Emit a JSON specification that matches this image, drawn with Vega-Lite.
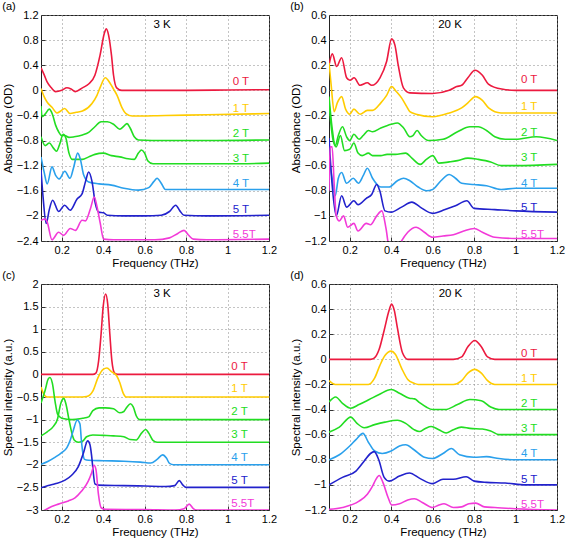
{
"$schema":"https://vega.github.io/schema/vega-lite/v6.json",
"padding":{"left":1,"top":0,"right":1,"bottom":2},
"background":"white",
"config":{
 "font":"Liberation Sans",
 "view":{"stroke":"#222","strokeWidth":1},
 "title":{"anchor":"start","frame":"bounds","fontSize":11,"fontWeight":"normal","offset":-3,"color":"#000"},
 "axis":{"labelFontSize":11,"labelColor":"#000","titleFontSize":11.5,"titleFontWeight":"normal","titleColor":"#000","grid":true,"gridDash":[1,3],"gridColor":"#888","domain":false,"tickColor":"#333","tickSize":-4,"labelPadding":7,"titlePadding":3,"labelFlush":false,"labelOverlap":false,"format":"~g"},
 "axisX":{"titlePadding":2}
},
"datasets":{
"a":[
{"B":"0 T","f":0.1,"v":0.36},{"B":"0 T","f":0.115,"v":0.25},{"B":"0 T","f":0.13,"v":0.13},{"B":"0 T","f":0.15,"v":0.04},{"B":"0 T","f":0.17,"v":-0.02},{"B":"0 T","f":0.2,"v":0.0},{"B":"0 T","f":0.225,"v":0.04},{"B":"0 T","f":0.245,"v":0.02},{"B":"0 T","f":0.265,"v":-0.02},{"B":"0 T","f":0.3,"v":0.04},{"B":"0 T","f":0.33,"v":0.1},{"B":"0 T","f":0.36,"v":0.24},{"B":"0 T","f":0.385,"v":0.56},{"B":"0 T","f":0.405,"v":0.9},{"B":"0 T","f":0.415,"v":0.98},{"B":"0 T","f":0.426,"v":0.88},{"B":"0 T","f":0.44,"v":0.56},{"B":"0 T","f":0.45,"v":0.24},{"B":"0 T","f":0.465,"v":0.04},{"B":"0 T","f":0.49,"v":0.0},{"B":"0 T","f":0.6,"v":0.0},{"B":"0 T","f":0.8,"v":0.0},{"B":"0 T","f":1.0,"v":0.005},{"B":"0 T","f":1.2,"v":0.01},
{"B":"1 T","f":0.1,"v":0.03},{"B":"1 T","f":0.115,"v":-0.1},{"B":"1 T","f":0.13,"v":-0.19},{"B":"1 T","f":0.153,"v":-0.27},{"B":"1 T","f":0.177,"v":-0.36},{"B":"1 T","f":0.195,"v":-0.33},{"B":"1 T","f":0.214,"v":-0.29},{"B":"1 T","f":0.24,"v":-0.37},{"B":"1 T","f":0.27,"v":-0.35},{"B":"1 T","f":0.3,"v":-0.33},{"B":"1 T","f":0.346,"v":-0.21},{"B":"1 T","f":0.37,"v":-0.08},{"B":"1 T","f":0.386,"v":0.05},{"B":"1 T","f":0.41,"v":0.2},{"B":"1 T","f":0.434,"v":0.11},{"B":"1 T","f":0.45,"v":0.02},{"B":"1 T","f":0.467,"v":-0.08},{"B":"1 T","f":0.49,"v":-0.27},{"B":"1 T","f":0.51,"v":-0.37},{"B":"1 T","f":0.54,"v":-0.41},{"B":"1 T","f":0.7,"v":-0.4},{"B":"1 T","f":0.9,"v":-0.39},{"B":"1 T","f":1.2,"v":-0.37},
{"B":"2 T","f":0.1,"v":-0.25},{"B":"2 T","f":0.105,"v":-0.42},{"B":"2 T","f":0.12,"v":-0.38},{"B":"2 T","f":0.14,"v":-0.3},{"B":"2 T","f":0.155,"v":-0.38},{"B":"2 T","f":0.17,"v":-0.55},{"B":"2 T","f":0.185,"v":-0.66},{"B":"2 T","f":0.2,"v":-0.72},{"B":"2 T","f":0.215,"v":-0.72},{"B":"2 T","f":0.235,"v":-0.75},{"B":"2 T","f":0.26,"v":-0.74},{"B":"2 T","f":0.3,"v":-0.71},{"B":"2 T","f":0.33,"v":-0.67},{"B":"2 T","f":0.36,"v":-0.58},{"B":"2 T","f":0.39,"v":-0.5},{"B":"2 T","f":0.42,"v":-0.5},{"B":"2 T","f":0.45,"v":-0.54},{"B":"2 T","f":0.48,"v":-0.62},{"B":"2 T","f":0.5,"v":-0.57},{"B":"2 T","f":0.515,"v":-0.53},{"B":"2 T","f":0.53,"v":-0.6},{"B":"2 T","f":0.55,"v":-0.74},{"B":"2 T","f":0.57,"v":-0.79},{"B":"2 T","f":0.7,"v":-0.8},{"B":"2 T","f":0.9,"v":-0.8},{"B":"2 T","f":1.2,"v":-0.79},
{"B":"3 T","f":0.1,"v":-0.74},{"B":"3 T","f":0.12,"v":-0.88},{"B":"3 T","f":0.14,"v":-0.84},{"B":"3 T","f":0.16,"v":-0.92},{"B":"3 T","f":0.175,"v":-0.97},{"B":"3 T","f":0.19,"v":-0.86},{"B":"3 T","f":0.207,"v":-0.7},{"B":"3 T","f":0.22,"v":-0.76},{"B":"3 T","f":0.235,"v":-1.0},{"B":"3 T","f":0.25,"v":-1.1},{"B":"3 T","f":0.28,"v":-1.1},{"B":"3 T","f":0.3,"v":-1.1},{"B":"3 T","f":0.33,"v":-1.06},{"B":"3 T","f":0.36,"v":-1.02},{"B":"3 T","f":0.4,"v":-1.0},{"B":"3 T","f":0.44,"v":-1.04},{"B":"3 T","f":0.48,"v":-1.06},{"B":"3 T","f":0.52,"v":-1.09},{"B":"3 T","f":0.55,"v":-1.1},{"B":"3 T","f":0.57,"v":-1.0},{"B":"3 T","f":0.585,"v":-0.95},{"B":"3 T","f":0.6,"v":-1.0},{"B":"3 T","f":0.615,"v":-1.12},{"B":"3 T","f":0.64,"v":-1.17},{"B":"3 T","f":0.8,"v":-1.17},{"B":"3 T","f":1.0,"v":-1.17},{"B":"3 T","f":1.2,"v":-1.16},
{"B":"4 T","f":0.1,"v":-1.06},{"B":"4 T","f":0.115,"v":-1.3},{"B":"4 T","f":0.13,"v":-1.49},{"B":"4 T","f":0.153,"v":-1.22},{"B":"4 T","f":0.17,"v":-1.35},{"B":"4 T","f":0.188,"v":-1.41},{"B":"4 T","f":0.215,"v":-1.29},{"B":"4 T","f":0.24,"v":-1.4},{"B":"4 T","f":0.258,"v":-1.22},{"B":"4 T","f":0.277,"v":-1.0},{"B":"4 T","f":0.29,"v":-1.1},{"B":"4 T","f":0.306,"v":-1.35},{"B":"4 T","f":0.33,"v":-1.46},{"B":"4 T","f":0.38,"v":-1.49},{"B":"4 T","f":0.44,"v":-1.51},{"B":"4 T","f":0.5,"v":-1.56},{"B":"4 T","f":0.57,"v":-1.59},{"B":"4 T","f":0.62,"v":-1.55},{"B":"4 T","f":0.645,"v":-1.45},{"B":"4 T","f":0.66,"v":-1.4},{"B":"4 T","f":0.68,"v":-1.48},{"B":"4 T","f":0.7,"v":-1.58},{"B":"4 T","f":0.8,"v":-1.58},{"B":"4 T","f":1.0,"v":-1.58},{"B":"4 T","f":1.2,"v":-1.58},
{"B":"5 T","f":0.1,"v":-1.27},{"B":"5 T","f":0.11,"v":-1.7},{"B":"5 T","f":0.125,"v":-2.12},{"B":"5 T","f":0.14,"v":-1.9},{"B":"5 T","f":0.156,"v":-1.75},{"B":"5 T","f":0.185,"v":-1.93},{"B":"5 T","f":0.214,"v":-1.83},{"B":"5 T","f":0.241,"v":-1.91},{"B":"5 T","f":0.274,"v":-1.73},{"B":"5 T","f":0.298,"v":-1.65},{"B":"5 T","f":0.315,"v":-1.45},{"B":"5 T","f":0.33,"v":-1.3},{"B":"5 T","f":0.346,"v":-1.45},{"B":"5 T","f":0.362,"v":-1.8},{"B":"5 T","f":0.378,"v":-1.94},{"B":"5 T","f":0.402,"v":-1.95},{"B":"5 T","f":0.42,"v":-1.99},{"B":"5 T","f":0.5,"v":-2.0},{"B":"5 T","f":0.6,"v":-2.0},{"B":"5 T","f":0.68,"v":-1.99},{"B":"5 T","f":0.72,"v":-1.93},{"B":"5 T","f":0.75,"v":-1.83},{"B":"5 T","f":0.77,"v":-1.92},{"B":"5 T","f":0.79,"v":-1.99},{"B":"5 T","f":0.9,"v":-2.0},{"B":"5 T","f":1.2,"v":-1.99},
{"B":"5.5T","f":0.1,"v":-2.07},{"B":"5.5T","f":0.121,"v":-2.05},{"B":"5.5T","f":0.13,"v":-2.1},{"B":"5.5T","f":0.153,"v":-2.38},{"B":"5.5T","f":0.185,"v":-2.26},{"B":"5.5T","f":0.209,"v":-2.31},{"B":"5.5T","f":0.241,"v":-2.2},{"B":"5.5T","f":0.266,"v":-2.23},{"B":"5.5T","f":0.298,"v":-2.07},{"B":"5.5T","f":0.314,"v":-2.08},{"B":"5.5T","f":0.338,"v":-1.89},{"B":"5.5T","f":0.357,"v":-1.7},{"B":"5.5T","f":0.37,"v":-1.85},{"B":"5.5T","f":0.386,"v":-2.12},{"B":"5.5T","f":0.402,"v":-2.37},{"B":"5.5T","f":0.45,"v":-2.38},{"B":"5.5T","f":0.55,"v":-2.38},{"B":"5.5T","f":0.65,"v":-2.38},{"B":"5.5T","f":0.72,"v":-2.35},{"B":"5.5T","f":0.76,"v":-2.28},{"B":"5.5T","f":0.79,"v":-2.23},{"B":"5.5T","f":0.81,"v":-2.3},{"B":"5.5T","f":0.835,"v":-2.37},{"B":"5.5T","f":0.9,"v":-2.38},{"B":"5.5T","f":1.2,"v":-2.37}
],
"b":[
{"B":"0 T","f":0.1,"v":0.2},{"B":"0 T","f":0.116,"v":0.29},{"B":"0 T","f":0.137,"v":0.19},{"B":"0 T","f":0.161,"v":0.26},{"B":"0 T","f":0.185,"v":0.1},{"B":"0 T","f":0.201,"v":0.08},{"B":"0 T","f":0.221,"v":0.1},{"B":"0 T","f":0.25,"v":0.04},{"B":"0 T","f":0.285,"v":0.06},{"B":"0 T","f":0.306,"v":0.04},{"B":"0 T","f":0.346,"v":0.1},{"B":"0 T","f":0.378,"v":0.23},{"B":"0 T","f":0.402,"v":0.41},{"B":"0 T","f":0.418,"v":0.36},{"B":"0 T","f":0.434,"v":0.2},{"B":"0 T","f":0.459,"v":0.02},{"B":"0 T","f":0.49,"v":-0.02},{"B":"0 T","f":0.6,"v":-0.025},{"B":"0 T","f":0.68,"v":0.0},{"B":"0 T","f":0.716,"v":0.03},{"B":"0 T","f":0.74,"v":0.04},{"B":"0 T","f":0.77,"v":0.1},{"B":"0 T","f":0.804,"v":0.16},{"B":"0 T","f":0.84,"v":0.12},{"B":"0 T","f":0.869,"v":0.05},{"B":"0 T","f":0.933,"v":0.01},{"B":"0 T","f":1.0,"v":0.0},{"B":"0 T","f":1.2,"v":0.0},
{"B":"1 T","f":0.1,"v":0.22},{"B":"1 T","f":0.11,"v":0.05},{"B":"1 T","f":0.125,"v":-0.17},{"B":"1 T","f":0.14,"v":-0.1},{"B":"1 T","f":0.161,"v":-0.05},{"B":"1 T","f":0.18,"v":-0.15},{"B":"1 T","f":0.2,"v":-0.19},{"B":"1 T","f":0.22,"v":-0.15},{"B":"1 T","f":0.25,"v":-0.19},{"B":"1 T","f":0.285,"v":-0.16},{"B":"1 T","f":0.31,"v":-0.16},{"B":"1 T","f":0.35,"v":-0.1},{"B":"1 T","f":0.378,"v":-0.04},{"B":"1 T","f":0.402,"v":0.03},{"B":"1 T","f":0.425,"v":-0.01},{"B":"1 T","f":0.45,"v":-0.06},{"B":"1 T","f":0.475,"v":-0.13},{"B":"1 T","f":0.49,"v":-0.17},{"B":"1 T","f":0.52,"v":-0.19},{"B":"1 T","f":0.6,"v":-0.21},{"B":"1 T","f":0.68,"v":-0.18},{"B":"1 T","f":0.74,"v":-0.14},{"B":"1 T","f":0.77,"v":-0.1},{"B":"1 T","f":0.807,"v":-0.05},{"B":"1 T","f":0.84,"v":-0.08},{"B":"1 T","f":0.87,"v":-0.14},{"B":"1 T","f":0.93,"v":-0.18},{"B":"1 T","f":1.0,"v":-0.18},{"B":"1 T","f":1.2,"v":-0.18},
{"B":"2 T","f":0.1,"v":-0.05},{"B":"2 T","f":0.115,"v":-0.3},{"B":"2 T","f":0.13,"v":-0.44},{"B":"2 T","f":0.145,"v":-0.36},{"B":"2 T","f":0.165,"v":-0.29},{"B":"2 T","f":0.185,"v":-0.37},{"B":"2 T","f":0.2,"v":-0.4},{"B":"2 T","f":0.22,"v":-0.35},{"B":"2 T","f":0.245,"v":-0.39},{"B":"2 T","f":0.265,"v":-0.36},{"B":"2 T","f":0.29,"v":-0.32},{"B":"2 T","f":0.31,"v":-0.33},{"B":"2 T","f":0.35,"v":-0.3},{"B":"2 T","f":0.4,"v":-0.27},{"B":"2 T","f":0.43,"v":-0.26},{"B":"2 T","f":0.46,"v":-0.3},{"B":"2 T","f":0.49,"v":-0.37},{"B":"2 T","f":0.505,"v":-0.36},{"B":"2 T","f":0.525,"v":-0.32},{"B":"2 T","f":0.545,"v":-0.36},{"B":"2 T","f":0.58,"v":-0.4},{"B":"2 T","f":0.65,"v":-0.39},{"B":"2 T","f":0.72,"v":-0.33},{"B":"2 T","f":0.78,"v":-0.29},{"B":"2 T","f":0.82,"v":-0.29},{"B":"2 T","f":0.86,"v":-0.32},{"B":"2 T","f":0.9,"v":-0.37},{"B":"2 T","f":0.95,"v":-0.39},{"B":"2 T","f":1.0,"v":-0.39},{"B":"2 T","f":1.1,"v":-0.37},{"B":"2 T","f":1.2,"v":-0.4},
{"B":"3 T","f":0.1,"v":-0.1},{"B":"3 T","f":0.12,"v":-0.4},{"B":"3 T","f":0.135,"v":-0.45},{"B":"3 T","f":0.155,"v":-0.36},{"B":"3 T","f":0.175,"v":-0.48},{"B":"3 T","f":0.2,"v":-0.47},{"B":"3 T","f":0.22,"v":-0.42},{"B":"3 T","f":0.24,"v":-0.5},{"B":"3 T","f":0.26,"v":-0.52},{"B":"3 T","f":0.29,"v":-0.5},{"B":"3 T","f":0.31,"v":-0.52},{"B":"3 T","f":0.35,"v":-0.52},{"B":"3 T","f":0.38,"v":-0.51},{"B":"3 T","f":0.42,"v":-0.51},{"B":"3 T","f":0.47,"v":-0.5},{"B":"3 T","f":0.5,"v":-0.54},{"B":"3 T","f":0.54,"v":-0.59},{"B":"3 T","f":0.57,"v":-0.55},{"B":"3 T","f":0.6,"v":-0.52},{"B":"3 T","f":0.63,"v":-0.58},{"B":"3 T","f":0.68,"v":-0.57},{"B":"3 T","f":0.72,"v":-0.56},{"B":"3 T","f":0.77,"v":-0.54},{"B":"3 T","f":0.82,"v":-0.55},{"B":"3 T","f":0.88,"v":-0.57},{"B":"3 T","f":0.93,"v":-0.6},{"B":"3 T","f":1.0,"v":-0.6},{"B":"3 T","f":1.2,"v":-0.59},
{"B":"4 T","f":0.1,"v":-0.52},{"B":"4 T","f":0.115,"v":-0.7},{"B":"4 T","f":0.13,"v":-0.84},{"B":"4 T","f":0.145,"v":-0.7},{"B":"4 T","f":0.161,"v":-0.655},{"B":"4 T","f":0.185,"v":-0.74},{"B":"4 T","f":0.217,"v":-0.7},{"B":"4 T","f":0.242,"v":-0.74},{"B":"4 T","f":0.265,"v":-0.68},{"B":"4 T","f":0.285,"v":-0.62},{"B":"4 T","f":0.31,"v":-0.7},{"B":"4 T","f":0.35,"v":-0.77},{"B":"4 T","f":0.39,"v":-0.77},{"B":"4 T","f":0.43,"v":-0.72},{"B":"4 T","f":0.46,"v":-0.7},{"B":"4 T","f":0.49,"v":-0.72},{"B":"4 T","f":0.53,"v":-0.77},{"B":"4 T","f":0.57,"v":-0.8},{"B":"4 T","f":0.6,"v":-0.79},{"B":"4 T","f":0.64,"v":-0.72},{"B":"4 T","f":0.68,"v":-0.67},{"B":"4 T","f":0.71,"v":-0.7},{"B":"4 T","f":0.74,"v":-0.74},{"B":"4 T","f":0.8,"v":-0.75},{"B":"4 T","f":0.86,"v":-0.76},{"B":"4 T","f":0.93,"v":-0.79},{"B":"4 T","f":1.0,"v":-0.78},{"B":"4 T","f":1.2,"v":-0.78},
{"B":"5 T","f":0.1,"v":-0.38},{"B":"5 T","f":0.115,"v":-0.75},{"B":"5 T","f":0.135,"v":-1.0},{"B":"5 T","f":0.161,"v":-0.84},{"B":"5 T","f":0.185,"v":-0.93},{"B":"5 T","f":0.22,"v":-0.88},{"B":"5 T","f":0.24,"v":-0.91},{"B":"5 T","f":0.28,"v":-0.86},{"B":"5 T","f":0.306,"v":-0.83},{"B":"5 T","f":0.33,"v":-0.75},{"B":"5 T","f":0.345,"v":-0.8},{"B":"5 T","f":0.37,"v":-0.96},{"B":"5 T","f":0.4,"v":-0.97},{"B":"5 T","f":0.45,"v":-0.93},{"B":"5 T","f":0.5,"v":-0.89},{"B":"5 T","f":0.54,"v":-0.93},{"B":"5 T","f":0.6,"v":-0.98},{"B":"5 T","f":0.66,"v":-0.95},{"B":"5 T","f":0.71,"v":-0.92},{"B":"5 T","f":0.765,"v":-0.88},{"B":"5 T","f":0.8,"v":-0.94},{"B":"5 T","f":0.9,"v":-0.95},{"B":"5 T","f":1.0,"v":-0.96},{"B":"5 T","f":1.2,"v":-0.97},
{"B":"5.5T","f":0.1,"v":-0.8},{"B":"5.5T","f":0.105,"v":-0.45},{"B":"5.5T","f":0.115,"v":-0.45},{"B":"5.5T","f":0.125,"v":-0.75},{"B":"5.5T","f":0.135,"v":-1.0},{"B":"5.5T","f":0.15,"v":-1.04},{"B":"5.5T","f":0.17,"v":-1.0},{"B":"5.5T","f":0.19,"v":-1.09},{"B":"5.5T","f":0.22,"v":-1.06},{"B":"5.5T","f":0.24,"v":-1.12},{"B":"5.5T","f":0.28,"v":-1.06},{"B":"5.5T","f":0.3,"v":-1.07},{"B":"5.5T","f":0.33,"v":-1.0},{"B":"5.5T","f":0.355,"v":-0.96},{"B":"5.5T","f":0.375,"v":-1.1},{"B":"5.5T","f":0.39,"v":-1.25},{"B":"5.5T","f":0.42,"v":-1.3},{"B":"5.5T","f":0.45,"v":-1.2},{"B":"5.5T","f":0.48,"v":-1.13},{"B":"5.5T","f":0.52,"v":-1.09},{"B":"5.5T","f":0.56,"v":-1.13},{"B":"5.5T","f":0.6,"v":-1.17},{"B":"5.5T","f":0.65,"v":-1.16},{"B":"5.5T","f":0.7,"v":-1.15},{"B":"5.5T","f":0.75,"v":-1.12},{"B":"5.5T","f":0.8,"v":-1.1},{"B":"5.5T","f":0.84,"v":-1.13},{"B":"5.5T","f":0.9,"v":-1.17},{"B":"5.5T","f":1.0,"v":-1.18},{"B":"5.5T","f":1.2,"v":-1.18}
],
"c":[
{"B":"0 T","f":0.1,"v":0},{"B":"0 T","f":0.35,"v":0},{"B":"0 T","f":0.365,"v":0.03},{"B":"0 T","f":0.378,"v":0.3},{"B":"0 T","f":0.39,"v":0.9},{"B":"0 T","f":0.4,"v":1.5},{"B":"0 T","f":0.412,"v":1.78},{"B":"0 T","f":0.422,"v":1.55},{"B":"0 T","f":0.432,"v":0.9},{"B":"0 T","f":0.442,"v":0.3},{"B":"0 T","f":0.455,"v":0.03},{"B":"0 T","f":0.47,"v":0},{"B":"0 T","f":1.2,"v":0},
{"B":"1 T","f":0.1,"v":-0.28},{"B":"1 T","f":0.115,"v":-0.45},{"B":"1 T","f":0.13,"v":-0.5},{"B":"1 T","f":0.3,"v":-0.5},{"B":"1 T","f":0.32,"v":-0.49},{"B":"1 T","f":0.35,"v":-0.37},{"B":"1 T","f":0.375,"v":-0.07},{"B":"1 T","f":0.4,"v":0.11},{"B":"1 T","f":0.418,"v":0.14},{"B":"1 T","f":0.44,"v":0.06},{"B":"1 T","f":0.465,"v":-0.03},{"B":"1 T","f":0.48,"v":-0.18},{"B":"1 T","f":0.497,"v":-0.42},{"B":"1 T","f":0.51,"v":-0.5},{"B":"1 T","f":1.2,"v":-0.5},
{"B":"2 T","f":0.1,"v":-0.63},{"B":"2 T","f":0.12,"v":-0.35},{"B":"2 T","f":0.135,"v":-0.1},{"B":"2 T","f":0.143,"v":-0.07},{"B":"2 T","f":0.155,"v":-0.2},{"B":"2 T","f":0.168,"v":-0.6},{"B":"2 T","f":0.18,"v":-0.88},{"B":"2 T","f":0.2,"v":-0.97},{"B":"2 T","f":0.25,"v":-1.0},{"B":"2 T","f":0.3,"v":-0.97},{"B":"2 T","f":0.33,"v":-0.94},{"B":"2 T","f":0.35,"v":-0.8},{"B":"2 T","f":0.38,"v":-0.74},{"B":"2 T","f":0.41,"v":-0.74},{"B":"2 T","f":0.45,"v":-0.76},{"B":"2 T","f":0.48,"v":-0.85},{"B":"2 T","f":0.5,"v":-0.82},{"B":"2 T","f":0.515,"v":-0.72},{"B":"2 T","f":0.532,"v":-0.65},{"B":"2 T","f":0.545,"v":-0.72},{"B":"2 T","f":0.56,"v":-0.92},{"B":"2 T","f":0.575,"v":-1.0},{"B":"2 T","f":1.2,"v":-1.0},
{"B":"3 T","f":0.1,"v":-1.36},{"B":"3 T","f":0.13,"v":-1.27},{"B":"3 T","f":0.16,"v":-1.15},{"B":"3 T","f":0.18,"v":-0.98},{"B":"3 T","f":0.195,"v":-0.65},{"B":"3 T","f":0.21,"v":-0.53},{"B":"3 T","f":0.22,"v":-0.65},{"B":"3 T","f":0.235,"v":-1.0},{"B":"3 T","f":0.25,"v":-1.32},{"B":"3 T","f":0.26,"v":-1.45},{"B":"3 T","f":0.28,"v":-1.5},{"B":"3 T","f":0.3,"v":-1.48},{"B":"3 T","f":0.32,"v":-1.38},{"B":"3 T","f":0.35,"v":-1.34},{"B":"3 T","f":0.4,"v":-1.35},{"B":"3 T","f":0.45,"v":-1.36},{"B":"3 T","f":0.5,"v":-1.38},{"B":"3 T","f":0.53,"v":-1.44},{"B":"3 T","f":0.56,"v":-1.45},{"B":"3 T","f":0.585,"v":-1.3},{"B":"3 T","f":0.605,"v":-1.22},{"B":"3 T","f":0.62,"v":-1.3},{"B":"3 T","f":0.64,"v":-1.46},{"B":"3 T","f":0.66,"v":-1.5},{"B":"3 T","f":1.2,"v":-1.5},
{"B":"4 T","f":0.1,"v":-1.99},{"B":"4 T","f":0.135,"v":-1.92},{"B":"4 T","f":0.165,"v":-1.84},{"B":"4 T","f":0.2,"v":-1.73},{"B":"4 T","f":0.225,"v":-1.62},{"B":"4 T","f":0.24,"v":-1.47},{"B":"4 T","f":0.255,"v":-1.25},{"B":"4 T","f":0.275,"v":-1.01},{"B":"4 T","f":0.288,"v":-1.1},{"B":"4 T","f":0.295,"v":-1.47},{"B":"4 T","f":0.303,"v":-1.77},{"B":"4 T","f":0.31,"v":-1.88},{"B":"4 T","f":0.33,"v":-1.9},{"B":"4 T","f":0.4,"v":-1.91},{"B":"4 T","f":0.5,"v":-1.92},{"B":"4 T","f":0.58,"v":-1.94},{"B":"4 T","f":0.63,"v":-1.96},{"B":"4 T","f":0.66,"v":-1.88},{"B":"4 T","f":0.687,"v":-1.78},{"B":"4 T","f":0.705,"v":-1.85},{"B":"4 T","f":0.72,"v":-1.97},{"B":"4 T","f":0.74,"v":-2.0},{"B":"4 T","f":1.2,"v":-2.0},
{"B":"5 T","f":0.1,"v":-2.51},{"B":"5 T","f":0.135,"v":-2.46},{"B":"5 T","f":0.168,"v":-2.42},{"B":"5 T","f":0.216,"v":-2.34},{"B":"5 T","f":0.248,"v":-2.23},{"B":"5 T","f":0.28,"v":-2.04},{"B":"5 T","f":0.304,"v":-1.75},{"B":"5 T","f":0.325,"v":-1.47},{"B":"5 T","f":0.336,"v":-1.55},{"B":"5 T","f":0.344,"v":-1.79},{"B":"5 T","f":0.352,"v":-2.16},{"B":"5 T","f":0.36,"v":-2.42},{"B":"5 T","f":0.377,"v":-2.45},{"B":"5 T","f":0.5,"v":-2.46},{"B":"5 T","f":0.6,"v":-2.47},{"B":"5 T","f":0.7,"v":-2.48},{"B":"5 T","f":0.745,"v":-2.46},{"B":"5 T","f":0.767,"v":-2.35},{"B":"5 T","f":0.785,"v":-2.45},{"B":"5 T","f":0.8,"v":-2.5},{"B":"5 T","f":1.2,"v":-2.5},
{"B":"5.5T","f":0.1,"v":-3.05},{"B":"5.5T","f":0.12,"v":-3.0},{"B":"5.5T","f":0.135,"v":-2.96},{"B":"5.5T","f":0.184,"v":-2.87},{"B":"5.5T","f":0.232,"v":-2.8},{"B":"5.5T","f":0.264,"v":-2.73},{"B":"5.5T","f":0.296,"v":-2.58},{"B":"5.5T","f":0.328,"v":-2.36},{"B":"5.5T","f":0.344,"v":-2.18},{"B":"5.5T","f":0.356,"v":-2.01},{"B":"5.5T","f":0.365,"v":-2.1},{"B":"5.5T","f":0.377,"v":-2.65},{"B":"5.5T","f":0.39,"v":-2.95},{"B":"5.5T","f":0.41,"v":-2.985},{"B":"5.5T","f":0.6,"v":-2.99},{"B":"5.5T","f":0.75,"v":-3.0},{"B":"5.5T","f":0.79,"v":-2.97},{"B":"5.5T","f":0.815,"v":-2.87},{"B":"5.5T","f":0.835,"v":-2.97},{"B":"5.5T","f":0.85,"v":-3.0},{"B":"5.5T","f":1.2,"v":-3.0}
],
"d":[
{"B":"0 T","f":0.1,"v":0},{"B":"0 T","f":0.3,"v":0},{"B":"0 T","f":0.318,"v":0.01},{"B":"0 T","f":0.342,"v":0.08},{"B":"0 T","f":0.366,"v":0.23},{"B":"0 T","f":0.39,"v":0.39},{"B":"0 T","f":0.402,"v":0.44},{"B":"0 T","f":0.415,"v":0.39},{"B":"0 T","f":0.43,"v":0.25},{"B":"0 T","f":0.455,"v":0.05},{"B":"0 T","f":0.48,"v":0},{"B":"0 T","f":0.7,"v":0},{"B":"0 T","f":0.74,"v":0.02},{"B":"0 T","f":0.77,"v":0.1},{"B":"0 T","f":0.803,"v":0.15},{"B":"0 T","f":0.835,"v":0.1},{"B":"0 T","f":0.865,"v":0.02},{"B":"0 T","f":0.9,"v":0},{"B":"0 T","f":1.2,"v":0},
{"B":"1 T","f":0.1,"v":-0.17},{"B":"1 T","f":0.13,"v":-0.2},{"B":"1 T","f":0.29,"v":-0.2},{"B":"1 T","f":0.32,"v":-0.15},{"B":"1 T","f":0.345,"v":-0.05},{"B":"1 T","f":0.37,"v":0.03},{"B":"1 T","f":0.4,"v":0.065},{"B":"1 T","f":0.42,"v":0.04},{"B":"1 T","f":0.45,"v":-0.07},{"B":"1 T","f":0.48,"v":-0.16},{"B":"1 T","f":0.51,"v":-0.19},{"B":"1 T","f":0.53,"v":-0.2},{"B":"1 T","f":0.7,"v":-0.2},{"B":"1 T","f":0.74,"v":-0.17},{"B":"1 T","f":0.77,"v":-0.11},{"B":"1 T","f":0.803,"v":-0.08},{"B":"1 T","f":0.835,"v":-0.11},{"B":"1 T","f":0.865,"v":-0.17},{"B":"1 T","f":0.9,"v":-0.2},{"B":"1 T","f":1.2,"v":-0.2},
{"B":"2 T","f":0.1,"v":-0.34},{"B":"2 T","f":0.132,"v":-0.3},{"B":"2 T","f":0.165,"v":-0.35},{"B":"2 T","f":0.205,"v":-0.39},{"B":"2 T","f":0.245,"v":-0.36},{"B":"2 T","f":0.294,"v":-0.32},{"B":"2 T","f":0.342,"v":-0.28},{"B":"2 T","f":0.4,"v":-0.24},{"B":"2 T","f":0.44,"v":-0.27},{"B":"2 T","f":0.488,"v":-0.31},{"B":"2 T","f":0.513,"v":-0.315},{"B":"2 T","f":0.537,"v":-0.345},{"B":"2 T","f":0.569,"v":-0.38},{"B":"2 T","f":0.6,"v":-0.4},{"B":"2 T","f":0.66,"v":-0.4},{"B":"2 T","f":0.72,"v":-0.36},{"B":"2 T","f":0.78,"v":-0.32},{"B":"2 T","f":0.835,"v":-0.33},{"B":"2 T","f":0.88,"v":-0.38},{"B":"2 T","f":0.92,"v":-0.4},{"B":"2 T","f":1.2,"v":-0.4},
{"B":"3 T","f":0.1,"v":-0.58},{"B":"3 T","f":0.15,"v":-0.54},{"B":"3 T","f":0.205,"v":-0.46},{"B":"3 T","f":0.235,"v":-0.51},{"B":"3 T","f":0.27,"v":-0.545},{"B":"3 T","f":0.32,"v":-0.52},{"B":"3 T","f":0.37,"v":-0.5},{"B":"3 T","f":0.43,"v":-0.485},{"B":"3 T","f":0.47,"v":-0.51},{"B":"3 T","f":0.51,"v":-0.56},{"B":"3 T","f":0.536,"v":-0.575},{"B":"3 T","f":0.565,"v":-0.55},{"B":"3 T","f":0.593,"v":-0.535},{"B":"3 T","f":0.63,"v":-0.56},{"B":"3 T","f":0.665,"v":-0.587},{"B":"3 T","f":0.7,"v":-0.56},{"B":"3 T","f":0.738,"v":-0.54},{"B":"3 T","f":0.78,"v":-0.55},{"B":"3 T","f":0.84,"v":-0.555},{"B":"3 T","f":0.88,"v":-0.57},{"B":"3 T","f":0.92,"v":-0.6},{"B":"3 T","f":1.2,"v":-0.6},
{"B":"4 T","f":0.1,"v":-0.8},{"B":"4 T","f":0.15,"v":-0.76},{"B":"4 T","f":0.2,"v":-0.69},{"B":"4 T","f":0.23,"v":-0.64},{"B":"4 T","f":0.264,"v":-0.59},{"B":"4 T","f":0.29,"v":-0.66},{"B":"4 T","f":0.32,"v":-0.73},{"B":"4 T","f":0.357,"v":-0.75},{"B":"4 T","f":0.4,"v":-0.73},{"B":"4 T","f":0.44,"v":-0.69},{"B":"4 T","f":0.47,"v":-0.68},{"B":"4 T","f":0.51,"v":-0.72},{"B":"4 T","f":0.56,"v":-0.78},{"B":"4 T","f":0.6,"v":-0.79},{"B":"4 T","f":0.65,"v":-0.75},{"B":"4 T","f":0.69,"v":-0.71},{"B":"4 T","f":0.73,"v":-0.76},{"B":"4 T","f":0.8,"v":-0.78},{"B":"4 T","f":0.86,"v":-0.775},{"B":"4 T","f":0.92,"v":-0.79},{"B":"4 T","f":1.0,"v":-0.8},{"B":"4 T","f":1.2,"v":-0.8},
{"B":"5 T","f":0.1,"v":-1.0},{"B":"5 T","f":0.165,"v":-0.94},{"B":"5 T","f":0.23,"v":-0.89},{"B":"5 T","f":0.27,"v":-0.81},{"B":"5 T","f":0.3,"v":-0.75},{"B":"5 T","f":0.318,"v":-0.735},{"B":"5 T","f":0.34,"v":-0.8},{"B":"5 T","f":0.366,"v":-0.94},{"B":"5 T","f":0.39,"v":-0.97},{"B":"5 T","f":0.44,"v":-0.93},{"B":"5 T","f":0.488,"v":-0.905},{"B":"5 T","f":0.54,"v":-0.95},{"B":"5 T","f":0.6,"v":-0.99},{"B":"5 T","f":0.65,"v":-0.955},{"B":"5 T","f":0.7,"v":-0.955},{"B":"5 T","f":0.762,"v":-0.935},{"B":"5 T","f":0.8,"v":-0.97},{"B":"5 T","f":0.86,"v":-0.98},{"B":"5 T","f":0.95,"v":-0.985},{"B":"5 T","f":1.05,"v":-1.0},{"B":"5 T","f":1.2,"v":-1.0},
{"B":"5.5T","f":0.1,"v":-1.195},{"B":"5.5T","f":0.165,"v":-1.18},{"B":"5.5T","f":0.245,"v":-1.13},{"B":"5.5T","f":0.285,"v":-1.075},{"B":"5.5T","f":0.31,"v":-1.01},{"B":"5.5T","f":0.325,"v":-0.96},{"B":"5.5T","f":0.342,"v":-0.925},{"B":"5.5T","f":0.36,"v":-0.98},{"B":"5.5T","f":0.385,"v":-1.1},{"B":"5.5T","f":0.402,"v":-1.16},{"B":"5.5T","f":0.44,"v":-1.15},{"B":"5.5T","f":0.48,"v":-1.12},{"B":"5.5T","f":0.512,"v":-1.11},{"B":"5.5T","f":0.55,"v":-1.14},{"B":"5.5T","f":0.6,"v":-1.18},{"B":"5.5T","f":0.63,"v":-1.16},{"B":"5.5T","f":0.655,"v":-1.15},{"B":"5.5T","f":0.7,"v":-1.18},{"B":"5.5T","f":0.74,"v":-1.175},{"B":"5.5T","f":0.775,"v":-1.15},{"B":"5.5T","f":0.808,"v":-1.145},{"B":"5.5T","f":0.85,"v":-1.175},{"B":"5.5T","f":0.9,"v":-1.18},{"B":"5.5T","f":1.0,"v":-1.19},{"B":"5.5T","f":1.2,"v":-1.2}
],
"la":[{"B":"0 T","f":1.025,"v":0.14},{"B":"1 T","f":1.025,"v":-0.29},{"B":"2 T","f":1.025,"v":-0.69},{"B":"3 T","f":1.025,"v":-1.1},{"B":"4 T","f":1.025,"v":-1.49},{"B":"5 T","f":1.025,"v":-1.9},{"B":"5.5T","f":1.025,"v":-2.3}],
"lb":[{"B":"0 T","f":1.026,"v":0.086},{"B":"1 T","f":1.026,"v":-0.13},{"B":"2 T","f":1.026,"v":-0.34},{"B":"3 T","f":1.026,"v":-0.54},{"B":"4 T","f":1.026,"v":-0.745},{"B":"5 T","f":1.026,"v":-0.94},{"B":"5.5T","f":1.026,"v":-1.15}],
"lc":[{"B":"0 T","f":1.018,"v":0.156},{"B":"1 T","f":1.018,"v":-0.32},{"B":"2 T","f":1.018,"v":-0.83},{"B":"3 T","f":1.018,"v":-1.34},{"B":"4 T","f":1.018,"v":-1.84},{"B":"5 T","f":1.018,"v":-2.35},{"B":"5.5T","f":1.018,"v":-2.86}],
"ld":[{"B":"0 T","f":1.026,"v":0.04},{"B":"1 T","f":1.026,"v":-0.157},{"B":"2 T","f":1.026,"v":-0.356},{"B":"3 T","f":1.026,"v":-0.555},{"B":"4 T","f":1.026,"v":-0.757},{"B":"5 T","f":1.026,"v":-0.958},{"B":"5.5T","f":1.026,"v":-1.16}],
"ta":[{"t":"3 K","f":0.684,"v":1.04}],
"tb":[{"t":"20 K","f":0.684,"v":0.52}],
"tc":[{"t":"3 K","f":0.684,"v":1.78}],
"td":[{"t":"20 K","f":0.686,"v":0.52}]
},
"spacing":0,
"vconcat":[
{"spacing":11,"hconcat":[
{"width":228,"height":226,"title":{"text":"(a)"},
 "layer":[
 {"data":{"name":"a"},"mark":{"type":"line","interpolate":"monotone","strokeWidth":1.6,"clip":true},
  "encoding":{"x":{"field":"f","type":"quantitative","scale":{"domain":[0.1,1.2],"nice":false,"zero":false},"axis":{"values":[0.2,0.4,0.6,0.8,1,1.2],"tickCount":20,"title":"Frequency (THz)","labelOverlap":false}},
   "y":{"field":"v","type":"quantitative","scale":{"domain":[-2.4,1.2],"nice":false,"zero":false},"axis":{"values":[-2.4,-2,-1.6,-1.2,-0.8,-0.4,0,0.4,0.8,1.2],"tickCount":20,"title":"Absorbance (OD)","labelOverlap":false}},
   "color":{"field":"B","type":"nominal","scale":{"domain":["0 T","1 T","2 T","3 T","4 T","5 T","5.5T"],"range":["#ec1a3f","#ffcc00","#22dd22","#22dd22","#2aa0ec","#2222cc","#f23ad8"]},"legend":null}}},
 {"data":{"name":"la"},"mark":{"type":"text","align":"left","baseline":"middle","fontSize":11.5},
  "encoding":{"x":{"field":"f","type":"quantitative"},"y":{"field":"v","type":"quantitative"},"text":{"field":"B"},"color":{"field":"B","type":"nominal","legend":null}}},
 {"data":{"name":"ta"},"mark":{"type":"text","baseline":"middle","fontSize":11.5,"color":"#000"},
  "encoding":{"x":{"field":"f","type":"quantitative"},"y":{"field":"v","type":"quantitative"},"text":{"field":"t"}}}
 ]},
{"width":228,"height":226,"title":{"text":"(b)"},
 "layer":[
 {"data":{"name":"b"},"mark":{"type":"line","interpolate":"monotone","strokeWidth":1.6,"clip":true},
  "encoding":{"x":{"field":"f","type":"quantitative","scale":{"domain":[0.1,1.2],"nice":false,"zero":false},"axis":{"values":[0.2,0.4,0.6,0.8,1,1.2],"tickCount":20,"title":"Frequency (THz)","labelOverlap":false}},
   "y":{"field":"v","type":"quantitative","scale":{"domain":[-1.2,0.6],"nice":false,"zero":false},"axis":{"values":[-1.2,-1,-0.8,-0.6,-0.4,-0.2,0,0.2,0.4,0.6],"tickCount":20,"title":"Absorbance (OD)","labelOverlap":false}},
   "color":{"field":"B","type":"nominal","scale":{"domain":["0 T","1 T","2 T","3 T","4 T","5 T","5.5T"],"range":["#ec1a3f","#ffcc00","#22dd22","#22dd22","#2aa0ec","#2222cc","#f23ad8"]},"legend":null}}},
 {"data":{"name":"lb"},"mark":{"type":"text","align":"left","baseline":"middle","fontSize":11.5},
  "encoding":{"x":{"field":"f","type":"quantitative"},"y":{"field":"v","type":"quantitative"},"text":{"field":"B"},"color":{"field":"B","type":"nominal","legend":null}}},
 {"data":{"name":"tb"},"mark":{"type":"text","baseline":"middle","fontSize":11.5,"color":"#000"},
  "encoding":{"x":{"field":"f","type":"quantitative"},"y":{"field":"v","type":"quantitative"},"text":{"field":"t"}}}
 ]}
]},
{"spacing":11,"hconcat":[
{"width":228,"height":226,"title":{"text":"(c)"},
 "layer":[
 {"data":{"name":"c"},"mark":{"type":"line","interpolate":"monotone","strokeWidth":1.6,"clip":true},
  "encoding":{"x":{"field":"f","type":"quantitative","scale":{"domain":[0.1,1.2],"nice":false,"zero":false},"axis":{"values":[0.2,0.4,0.6,0.8,1,1.2],"tickCount":20,"title":"Frequency (THz)","labelOverlap":false}},
   "y":{"field":"v","type":"quantitative","scale":{"domain":[-3,2],"nice":false,"zero":false},"axis":{"values":[-3,-2.5,-2,-1.5,-1,-0.5,0,0.5,1,1.5,2],"tickCount":20,"title":"Spectral intensity (a.u.)","labelOverlap":false}},
   "color":{"field":"B","type":"nominal","scale":{"domain":["0 T","1 T","2 T","3 T","4 T","5 T","5.5T"],"range":["#ec1a3f","#ffcc00","#22dd22","#22dd22","#2aa0ec","#2222cc","#f23ad8"]},"legend":null}}},
 {"data":{"name":"lc"},"mark":{"type":"text","align":"left","baseline":"middle","fontSize":11.5},
  "encoding":{"x":{"field":"f","type":"quantitative"},"y":{"field":"v","type":"quantitative"},"text":{"field":"B"},"color":{"field":"B","type":"nominal","legend":null}}},
 {"data":{"name":"tc"},"mark":{"type":"text","baseline":"middle","fontSize":11.5,"color":"#000"},
  "encoding":{"x":{"field":"f","type":"quantitative"},"y":{"field":"v","type":"quantitative"},"text":{"field":"t"}}}
 ]},
{"width":228,"height":226,"title":{"text":"(d)"},
 "layer":[
 {"data":{"name":"d"},"mark":{"type":"line","interpolate":"monotone","strokeWidth":1.6,"clip":true},
  "encoding":{"x":{"field":"f","type":"quantitative","scale":{"domain":[0.1,1.2],"nice":false,"zero":false},"axis":{"values":[0.2,0.4,0.6,0.8,1,1.2],"tickCount":20,"title":"Frequency (THz)","labelOverlap":false}},
   "y":{"field":"v","type":"quantitative","scale":{"domain":[-1.2,0.6],"nice":false,"zero":false},"axis":{"values":[-1.2,-1,-0.8,-0.6,-0.4,-0.2,0,0.2,0.4,0.6],"tickCount":20,"title":"Spectral intensity (a.u.)","labelOverlap":false}},
   "color":{"field":"B","type":"nominal","scale":{"domain":["0 T","1 T","2 T","3 T","4 T","5 T","5.5T"],"range":["#ec1a3f","#ffcc00","#22dd22","#22dd22","#2aa0ec","#2222cc","#f23ad8"]},"legend":null}}},
 {"data":{"name":"ld"},"mark":{"type":"text","align":"left","baseline":"middle","fontSize":11.5},
  "encoding":{"x":{"field":"f","type":"quantitative"},"y":{"field":"v","type":"quantitative"},"text":{"field":"B"},"color":{"field":"B","type":"nominal","legend":null}}},
 {"data":{"name":"td"},"mark":{"type":"text","baseline":"middle","fontSize":11.5,"color":"#000"},
  "encoding":{"x":{"field":"f","type":"quantitative"},"y":{"field":"v","type":"quantitative"},"text":{"field":"t"}}}
 ]}
]}
]
}
